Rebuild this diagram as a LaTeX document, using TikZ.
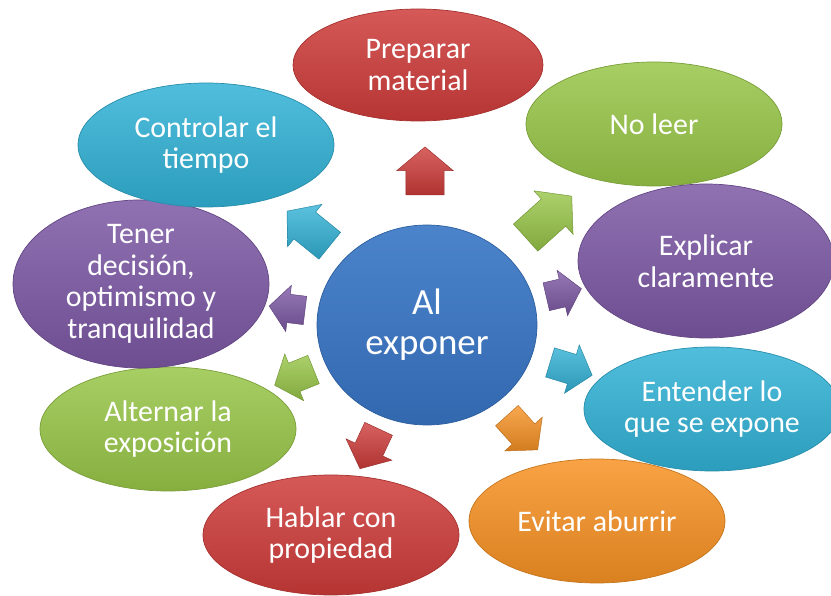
\documentclass[tikz,border=0pt]{standalone}
\usepackage{fontspec}
\setmainfont{Carlito}
\usetikzlibrary{shapes.geometric,shapes.arrows}
\newdimen\pxu \pxu=0.03cm
\definecolor{cred}{RGB}{206,60,58}
\definecolor{cgreen}{RGB}{152,198,72}
\definecolor{cpurple}{RGB}{124,88,164}
\definecolor{ccyan}{RGB}{50,178,214}
\definecolor{corange}{RGB}{247,146,36}
\definecolor{cblue}{RGB}{56,118,198}
\tikzset{
  bubble/.style={ellipse, inner sep=0pt, minimum width=256\pxu, minimum height=124\pxu,
    text=white, align=center, font=\fontsize{25.5}{27}\selectfont,
    draw=#1!80!black, line width=0.6pt,
    top color=#1!85!white, middle color=#1, bottom color=#1!88!black},
  hub/.style={ellipse, inner sep=0pt, minimum width=220\pxu, minimum height=200\pxu,
    text=white, align=center, font=\fontsize{31.5}{34}\selectfont,
    draw=cblue!80!black, line width=0.6pt,
    top color=cblue!90!white, middle color=cblue, bottom color=cblue!88!black},
  barrow/.style={single arrow, inner xsep=0pt, draw=#1!75!black, line width=0.4pt,
    top color=#1!80!white, bottom color=#1!85!black, single arrow tip angle=100}
}
\begin{document}
\begin{tikzpicture}[x=0.03cm, y=-0.03cm]
\useasboundingbox (0,0) rectangle (831,596);
% satellites
\node[bubble=cred, minimum width=250\pxu, minimum height=112\pxu] (prep) at (418,65) {Preparar\\material};
\node[bubble=cgreen] (noleer) at (654,124) {No leer};
\node[bubble=cpurple, minimum height=154\pxu] (expl) at (706,261) {Explicar\\claramente};
\node[bubble=ccyan] (ent) at (712,409) {Entender lo\\que se expone};
\node[bubble=corange] (evit) at (597,521) {Evitar aburrir};
\node[bubble=cred, minimum height=120\pxu] (habl) at (331,535) {Hablar con\\propiedad};
\node[bubble=cgreen] (alt) at (168,429) {Alternar la\\exposición};
\node[bubble=cpurple, minimum height=152\pxu] (ten) at (141,284) {Tener\\decisión,\\optimismo y\\tranquilidad};
\node[bubble=ccyan] (ctrl) at (206,145) {Controlar el\\tiempo};
% hub
\node[hub] (hub) at (427,325) {Al\\exponer};
% arrows
\node[barrow=cred, minimum height=48\pxu, inner ysep=19\pxu, single arrow head extend=9\pxu, rotate=90] (a1) at (425,179) {};
\node[barrow=cgreen, minimum height=62\pxu, inner ysep=18\pxu, single arrow head extend=11\pxu, rotate=42] (a2) at (543,222) {};
\node[barrow=cpurple, minimum height=36\pxu, inner ysep=14\pxu, single arrow head extend=9\pxu, rotate=13] (a3) at (558,294) {};
\node[barrow=ccyan, minimum height=44\pxu, inner ysep=15\pxu, single arrow head extend=10\pxu, rotate=-17] (a4) at (565,367) {};
\node[barrow=corange, minimum height=46\pxu, inner ysep=15\pxu, single arrow head extend=10\pxu, rotate=-48] (a5) at (518,428) {};
\node[barrow=cred, minimum height=44\pxu, inner ysep=15\pxu, single arrow head extend=10\pxu, rotate=-115] (a6) at (372,443) {};
\node[barrow=cgreen, minimum height=42\pxu, inner ysep=15\pxu, single arrow head extend=10\pxu, rotate=-158] (a7) at (300,375) {};
\node[barrow=cpurple, minimum height=36\pxu, inner ysep=14\pxu, single arrow head extend=9\pxu, rotate=173] (a8) at (293,309) {};
\node[barrow=ccyan, minimum height=55\pxu, inner ysep=17\pxu, single arrow head extend=10\pxu, rotate=141] (a9) at (314,233) {};
\end{tikzpicture}
\end{document}
